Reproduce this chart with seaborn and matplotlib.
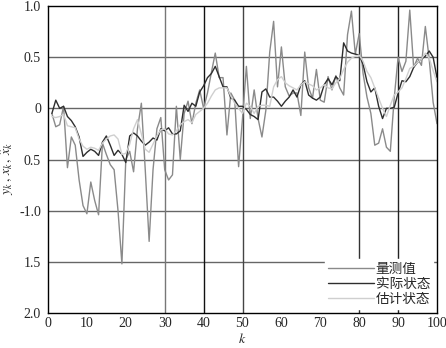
import numpy as np
import pandas as pd
import matplotlib
matplotlib.use("Agg")
import matplotlib.pyplot as plt
import seaborn as sns

k = list(range(1, 101))

measured = [-0.05, -0.18, -0.16, 0.02, -0.58, -0.28, -0.36, -0.70, -0.95, -1.03,
            -0.72, -0.90, -1.04, -0.34, -0.45, -0.55, -0.60, -1.00, -1.52, -0.50,
            -0.42, -0.62, -0.20, 0.05, -0.60, -1.30, -0.60, -0.20, -0.09, -0.60,
            -0.70, -0.65, 0.02, -0.50, -0.05, 0.07, -0.15, 0.05, 0.18, 0.00,
            0.15, 0.35, 0.54, 0.30, 0.30, -0.26, 0.15, 0.08, -0.57, -0.10,
            0.41, -0.10, 0.18, -0.10, -0.28, -0.02, 0.55, 0.85, 0.21, 0.60,
            0.21, 0.12, 0.15, 0.15, -0.07, 0.55, 0.20, 0.10, 0.38, 0.08,
            0.06, 0.31, 0.18, 0.32, 0.20, 0.13, 0.72, 0.95, 0.53, 0.73,
            0.34, 0.11, -0.05, -0.36, -0.34, -0.20, -0.38, -0.42, 0.10, 0.50,
            0.36, 0.46, 0.96, 0.40, 0.49, 0.42, 0.80, 0.48, 0.06, -0.15]

actual = [-0.05, 0.08, 0.00, 0.02, -0.08, -0.12, -0.18, -0.28, -0.47, -0.43,
          -0.40, -0.42, -0.46, -0.33, -0.27, -0.36, -0.46, -0.41, -0.45, -0.53,
          -0.27, -0.24, -0.27, -0.32, -0.36, -0.33, -0.29, -0.31, -0.20, -0.22,
          -0.19, -0.25, -0.25, -0.22, 0.03, -0.03, 0.05, 0.02, 0.16, 0.22,
          0.30, 0.34, 0.41, 0.31, 0.21, 0.21, 0.10, 0.08, 0.02, 0.02,
          -0.01, -0.06, -0.08, -0.11, 0.16, 0.19, 0.11, 0.11, 0.07, 0.02,
          0.07, 0.11, 0.18, 0.11, 0.23, 0.27, 0.13, 0.10, 0.08, 0.11,
          0.23, 0.29, 0.23, 0.31, 0.27, 0.64, 0.56, 0.54, 0.53, 0.52,
          0.43, 0.26, 0.16, 0.20, 0.02, -0.10, 0.00, 0.00, 0.01, 0.15,
          0.27, 0.26, 0.31, 0.40, 0.45, 0.48, 0.51, 0.56, 0.50, 0.30]

estimated = [-0.08, -0.09, -0.08, -0.06, -0.17, -0.18, -0.19, -0.30, -0.37, -0.40,
             -0.38, -0.39, -0.41, -0.34, -0.30, -0.27, -0.26, -0.30, -0.45, -0.44,
             -0.35, -0.20, -0.11, -0.25, -0.40, -0.43, -0.35, -0.27, -0.21, -0.20,
             -0.25, -0.26, -0.22, -0.16, -0.13, -0.11, -0.14, -0.06, -0.03, 0.00,
             0.05, 0.12, 0.18, 0.20, 0.20, 0.20, 0.12, 0.05, 0.00, -0.05,
             0.05, 0.02, -0.05, 0.02, 0.03, 0.03, 0.02, 0.21, 0.28, 0.31,
             0.25, 0.22, 0.20, 0.18, 0.23, 0.26, 0.24, 0.22, 0.18, 0.20,
             0.23, 0.20, 0.19, 0.25, 0.29, 0.38, 0.45, 0.49, 0.51, 0.52,
             0.46, 0.36, 0.30, 0.20, 0.10, 0.00, -0.08, 0.03, 0.13, 0.16,
             0.20, 0.29, 0.39, 0.41, 0.45, 0.48, 0.54, 0.49, 0.37, 0.26]

series_names = ["量测值", "实际状态", "估计状态"]
series_colors = ["#8a8a8a", "#2e2e2e", "#cfcfcf"]

x_ticks = [0, 10, 20, 30, 40, 50, 60, 70, 80, 90, 100]
y_ticks = [1.0, 0.5, 0.0, -0.5, -1.0, -1.5, -2.0]
y_tick_labels = ["1.0", "0.5", "0", "0.5", "-1.0", "1.5", "2.0"]
h_grid = [0.5, 0.0, -0.5, -1.0, -1.5]
v_grid = [30, 40, 50, 80, 90]
v_grid_colors = ["#777777", "#111111", "#444444", "#333333", "#222222"]

sns.set_style("white")
plt.rcParams["font.family"] = ["Liberation Serif", "Noto Sans CJK SC"]
plt.rcParams["mathtext.fontset"] = "stix"

df = pd.DataFrame({
    "k": k * 3,
    "value": measured + actual + estimated,
    "series": [series_names[0]] * len(k) + [series_names[1]] * len(k) + [series_names[2]] * len(k),
})

fig = plt.figure(figsize=(4.46, 3.48), dpi=100)
ax = fig.add_axes([48 / 446, 1 - 313 / 348, (437 - 48) / 446, (313 - 6) / 348])

for yv in h_grid:
    ax.axhline(yv, color="#666666", lw=1.0, zorder=0)
for xv, c in zip(v_grid, v_grid_colors):
    ax.axvline(xv, color=c, lw=1.0, zorder=0)

sns.lineplot(data=df, x="k", y="value", hue="series", hue_order=series_names,
             palette=dict(zip(series_names, series_colors)), lw=1.0, ax=ax, zorder=2)

ax.set_xlim(0, 100)
ax.set_ylim(-2.0, 1.0)
ax.set_xticks(x_ticks)
ax.set_xticklabels([str(t) for t in x_ticks], fontsize=10)
ax.set_yticks(y_ticks)
ax.set_yticklabels(y_tick_labels, fontsize=10)
ax.tick_params(axis="x", length=0, pad=3)
ax.tick_params(axis="y", length=0, pad=5)
for s in ax.spines.values():
    s.set_color("black")
    s.set_linewidth(1.0)

ax.set_xlabel("$k$", fontsize=10)
ax.xaxis.set_label_coords(0.5, -0.063)
ax.set_ylabel(r"$y_k\,,\,x_k\,,\,\hat{x}_k$", fontsize=10)
ax.yaxis.set_label_coords(-0.082, 0.47)

leg = ax.legend(loc="lower right", frameon=True, handlelength=3.4,
                handletextpad=0.1, borderpad=0.2, labelspacing=0.1,
                borderaxespad=0.3, prop={"family": ["Noto Sans CJK SC"], "size": 9.8})
leg.get_frame().set_facecolor("white")
leg.get_frame().set_edgecolor("white")
leg.get_frame().set_alpha(1.0)
leg.get_frame().set_boxstyle("square", pad=0)
leg.set_zorder(5)

fig.savefig("out.png", dpi=100)
